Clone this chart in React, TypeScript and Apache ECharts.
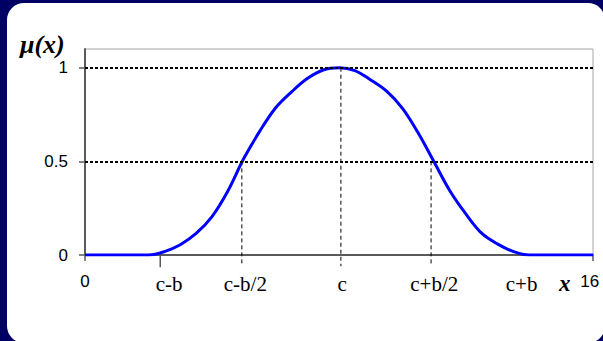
import React, { useEffect, useRef } from "react";
import * as echarts from "echarts";

// curve samples
const xValues = [0, 0.5, 1, 1.5, 2, 2.5, 3, 3.5, 4, 4.5, 5, 5.5, 6, 6.5, 7, 7.5, 8, 8.5, 9, 9.5, 10, 10.5, 11, 11.5, 12, 12.5, 13, 13.5, 14, 14.5, 15, 15.5, 16];
const muValues = [0, 0, 0, 0, 0, 0.018, 0.055, 0.115, 0.205, 0.342, 0.515, 0.66, 0.785, 0.87, 0.942, 0.988, 1.0, 0.985, 0.935, 0.875, 0.783, 0.65, 0.495, 0.34, 0.218, 0.115, 0.058, 0.018, 0, 0, 0, 0, 0];

// x-axis labels
const xLabels = ["0", "c-b", "c-b/2", "c", "c+b/2", "c+b", "16"];
const xLabelPos = [0, 2.65, 5.05, 8.1, 11.0, 13.75, 15.9];
const sansLabels = ["0", "16"];

// guide lines
const guideX = [4.94, 8.06, 10.9];
const guideTop = [0.5, 1, 0.5];
const guideBottom = -0.06;
const cbTickX = 2.37;
const levels = [0.5, 1];
const yTicks = [0, 0.5, 1];
const xTicks = [0, 16];

export default function App() {
  const ref = useRef<HTMLDivElement>(null);
  useEffect(() => {
    if (!ref.current) return;
    const chart = echarts.init(ref.current, null, { renderer: "svg" });
    const curve = xValues.map((x, i) => [x, muValues[i]]);
    const guideSeries = guideX.map((x, i) => ({
      type: "line",
      data: [[x, guideTop[i]], [x, guideBottom]],
      symbol: "none",
      clip: false,
      silent: true,
      z: 1,
      lineStyle: { color: "#000", width: 1, type: [4, 3] },
    }));
    chart.setOption({
      animation: false,
      grid: {
        left: 85,
        right: 10,
        top: 49,
        bottom: 86,
        show: true,
        borderColor: "#a6a6a6",
        borderWidth: 1,
      },
      xAxis: {
        type: "value",
        min: 0,
        max: 16,
        splitLine: { show: false },
        axisLine: { show: true, lineStyle: { color: "#5a5a5a", width: 2 } },
        axisTick: {
          show: true,
          customValues: xTicks,
          length: 6,
          lineStyle: { color: "#5a5a5a", width: 1.5 },
        },
        axisLabel: {
          customValues: xLabelPos,
          margin: 17,
          formatter: (v: number) => {
            let idx = 0;
            let best = Infinity;
            xLabelPos.forEach((p, i) => {
              const d = Math.abs(p - v);
              if (d < best) {
                best = d;
                idx = i;
              }
            });
            const t = xLabels[idx];
            return sansLabels.includes(t) ? `{s|${t}}` : `{t|${t}}`;
          },
          rich: {
            s: {
              fontFamily: "Liberation Sans, Arial, sans-serif",
              fontSize: 17,
              lineHeight: 17,
              color: "#000",
              padding: [2, 0, 0, 0],
            },
            t: {
              fontFamily: "Liberation Serif, Times New Roman, serif",
              fontSize: 21,
              lineHeight: 21,
              color: "#000",
              padding: [3, 0, 0, 0],
            },
          },
        },
      },
      yAxis: {
        type: "value",
        min: 0,
        max: 1.1,
        splitLine: { show: false },
        axisLine: { show: true, lineStyle: { color: "#5a5a5a", width: 2 } },
        axisTick: {
          show: true,
          customValues: yTicks,
          length: 6,
          lineStyle: { color: "#5a5a5a", width: 1.5 },
        },
        axisLabel: {
          customValues: yTicks,
          margin: 17,
          fontFamily: "Liberation Sans, Arial, sans-serif",
          fontSize: 17,
          color: "#000",
          formatter: (v: number) => String(v),
        },
      },
      series: [
        {
          type: "line",
          data: curve,
          symbol: "none",
          smooth: 0.35,
          z: 3,
          lineStyle: { color: "#0000ff", width: 3 },
          markLine: {
            silent: true,
            symbol: "none",
            label: { show: false },
            lineStyle: { color: "#000", width: 2, type: [3, 2] },
            data: levels.map((y) => ({ yAxis: y })),
          },
        },
        ...guideSeries,
        {
          type: "line",
          data: [[cbTickX, 0], [cbTickX, guideBottom - 0.005]],
          symbol: "none",
          clip: false,
          silent: true,
          z: 1,
          lineStyle: { color: "#5a5a5a", width: 1.5 },
        },
      ],
      graphic: [
        {
          type: "text",
          left: 20,
          top: 31,
          style: {
            text: "μ(x)",
            font: "italic bold 26px 'Liberation Serif', 'Times New Roman', serif",
            fill: "#000",
          },
        },
        {
          type: "text",
          left: 559,
          top: 272,
          style: {
            text: "x",
            font: "italic bold 23px 'Liberation Serif', 'Times New Roman', serif",
            fill: "#000",
          },
        },
      ],
    });
    return () => chart.dispose();
  }, []);

  return (
    <div
      style={{
        position: "fixed",
        left: 0,
        top: 0,
        width: 603,
        height: 341,
        background: "#000064",
        overflow: "hidden",
      }}
    >
      <div
        style={{
          position: "absolute",
          left: 7,
          top: 3,
          width: 598,
          height: 340,
          background: "#ffffff",
          borderRadius: 17,
        }}
      />
      <div
        ref={ref}
        style={{ position: "absolute", left: 0, top: 0, width: 603, height: 341 }}
      />
    </div>
  );
}
